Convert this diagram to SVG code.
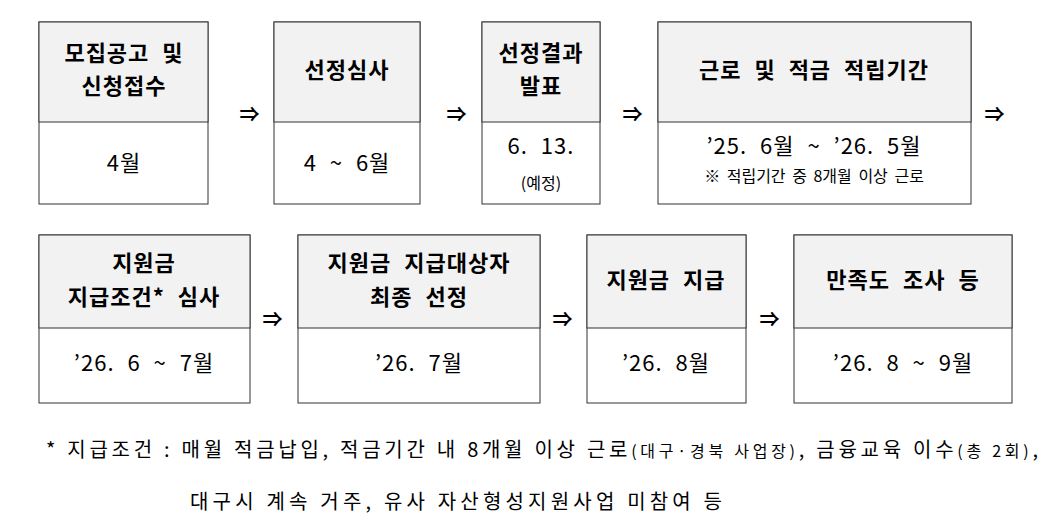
<svg xmlns="http://www.w3.org/2000/svg" width="1054" height="528" viewBox="0 0 1054 528">
<style>
.h{fill:#f2f2f2;stroke:#333;stroke-width:1}
.b{fill:#fff;stroke:#333;stroke-width:1}
text{font-family:"Noto Sans CJK KR","Noto Sans",sans-serif;fill:#000;text-anchor:middle;word-spacing:7px;letter-spacing:1px}
.t{font-size:22px;font-weight:bold}
.d{font-size:22px}
.s{font-size:16px;word-spacing:3px;letter-spacing:0}
.a{font-size:20px;font-weight:bold}
.f{font-size:20px;text-anchor:start;letter-spacing:0;word-spacing:0}
</style>
<rect width="1054" height="528" fill="#fff"/>
<g id="n1"><rect class="b" x="39" y="22" width="169" height="182"/><rect class="h" x="39" y="22" width="169" height="100"/><text class="t" x="124" y="61">모집공고 및</text><text class="t" x="124" y="94">신청접수</text><text class="d" x="124" y="171">4월</text></g>
<g id="n2"><rect class="b" x="274" y="22" width="146" height="182"/><rect class="h" x="274" y="22" width="146" height="100"/><text class="t" x="347" y="78">선정심사</text><text class="d" x="347" y="171">4 ~ 6월</text></g>
<g id="n3"><rect class="b" x="482" y="22" width="118" height="182"/><rect class="h" x="482" y="22" width="118" height="100"/><text class="t" x="541" y="61">선정결과</text><text class="t" x="541" y="94">발표</text><text class="d" x="541" y="154">6. 13.</text><text class="s" x="541" y="189">(예정)</text></g>
<g id="n4"><rect class="b" x="658" y="22" width="313" height="182"/><rect class="h" x="658" y="22" width="313" height="100"/><text class="t" x="814" y="78">근로 및 적금 적립기간</text><text class="d" x="814" y="154">’25. 6월 ~ ’26. 5월</text><text class="s" x="814" y="182">※ 적립기간 중 8개월 이상 근로</text></g>
<g id="n5"><rect class="b" x="39" y="235" width="211" height="168"/><rect class="h" x="39" y="235" width="211" height="93"/><text class="t" x="144" y="271">지원금</text><text class="t" x="144" y="305">지급조건* 심사</text><text class="d" x="144" y="371">’26. 6 ~ 7월</text></g>
<g id="n6"><rect class="b" x="298" y="235" width="242" height="168"/><rect class="h" x="298" y="235" width="242" height="93"/><text class="t" x="419" y="271">지원금 지급대상자</text><text class="t" x="419" y="305">최종 선정</text><text class="d" x="419" y="371">’26. 7월</text></g>
<g id="n7"><rect class="b" x="587" y="235" width="159" height="168"/><rect class="h" x="587" y="235" width="159" height="93"/><text class="t" x="666" y="288">지원금 지급</text><text class="d" x="666" y="371">’26. 8월</text></g>
<g id="n8"><rect class="b" x="794" y="235" width="218" height="168"/><rect class="h" x="794" y="235" width="218" height="93"/><text class="t" x="903" y="288">만족도 조사 등</text><text class="d" x="903" y="371">’26. 8 ~ 9월</text></g>
<g id="connectors">
<text class="a" x="250" y="122">⇒</text><text class="a" x="457" y="122">⇒</text><text class="a" x="633" y="122">⇒</text><text class="a" x="995" y="122">⇒</text>
<text class="a" x="273" y="327">⇒</text><text class="a" x="563" y="327">⇒</text><text class="a" x="770" y="327">⇒</text>
</g>
<text class="f" x="46" y="457" textLength="992" lengthAdjust="spacing">* 지급조건 : 매월 적금납입, 적금기간 내 8개월 이상 근로<tspan font-size="16">(대구·경북 사업장)</tspan>, 금융교육 이수<tspan font-size="16">(총 2회)</tspan>,</text>
<text class="f" x="190" y="509" textLength="532" lengthAdjust="spacing">대구시 계속 거주, 유사 자산형성지원사업 미참여 등</text>
</svg>
